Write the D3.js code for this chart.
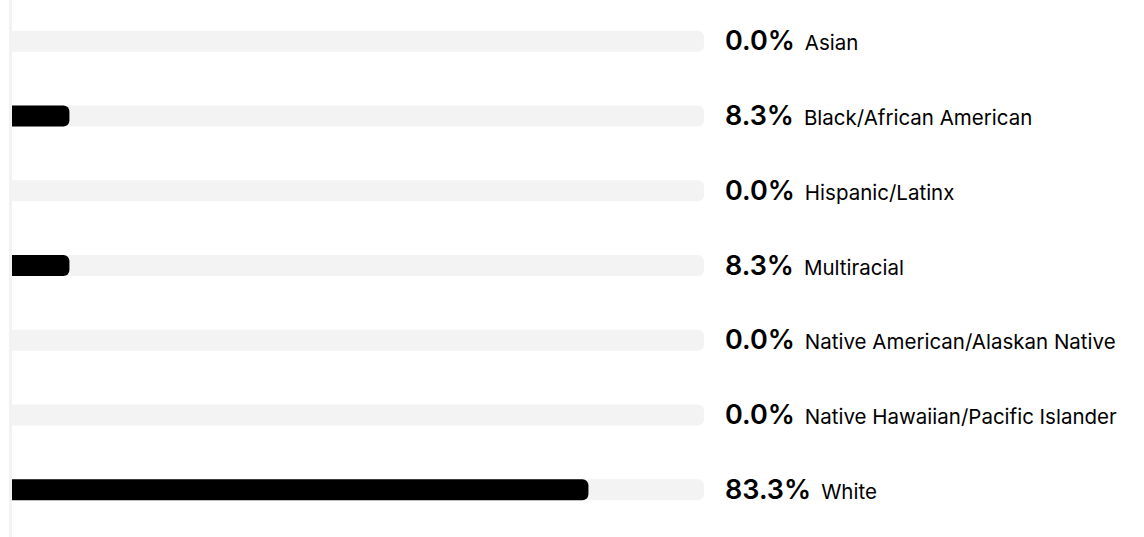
<!DOCTYPE html>
<html>
<head>
<meta charset="utf-8">
<script src="https://cdn.jsdelivr.net/npm/d3@7"></script>
<style>
  body { margin: 0; background: #fff; }
  text { font-family: Inter, "Open Sans", sans-serif; fill: #000; }
</style>
</head>
<body>
<div id="chart"></div>
<script>
// Data
var categories = ['Asian', 'Black/African American', 'Hispanic/Latinx', 'Multiracial',
  'Native American/Alaskan Native', 'Native Hawaiian/Pacific Islander', 'White'];
var percents = [0.0, 8.3, 0.0, 8.3, 0.0, 0.0, 83.3];

var width = 1144;
var height = 537;

var svg = d3.select('#chart')
  .append('svg')
  .attr('width', width)
  .attr('height', height);

var x = d3.scaleLinear().domain([0, 100]).range([12, 704]);
var y = d3.scaleBand().domain(categories).range([4, 527]).paddingInner(0.72).paddingOuter(0.36);
var barH = 21;

// left axis line
svg.append('rect')
  .attr('x', 9)
  .attr('y', 0)
  .attr('width', 3)
  .attr('height', height)
  .style('fill', '#f2f2f2');

var rows = svg.selectAll('.row')
  .data(categories)
  .enter().append('g')
  .attr('class', 'row')
  .attr('transform', function(d) {
    return 'translate(0,' + (y(d) + y.bandwidth() / 2) + ')';
  });

// background track
rows.append('path')
  .attr('d', function() { return roundRight(x(0), -barH / 2, x(100) - x(0), barH, 6); })
  .style('fill', '#f3f3f3');

// value bar
rows.append('path')
  .attr('d', function(d, i) {
    var w = x(percents[i]) - x(0);
    return w > 0 ? roundRight(x(0), -barH / 2, w, barH, 6) : '';
  })
  .style('fill', '#000');

var pct = rows.append('text')
  .attr('x', 725)
  .attr('y', 9)
  .style('font-size', '27px')
  .style('font-weight', 600)
  .text(function(d, i) { return percents[i].toFixed(1) + '%'; });

rows.append('text')
  .attr('x', function(d, i) {
    return 725 + pct.nodes()[i].getComputedTextLength() + 10;
  })
  .attr('y', 9)
  .style('font-size', '20.5px')
  .text(function(d) { return d; });

function roundRight(x0, y0, w, h, r) {
  r = Math.min(r, w / 2, h / 2);
  return 'M' + x0 + ',' + y0 +
    'H' + (x0 + w - r) +
    'A' + r + ',' + r + ' 0 0 1 ' + (x0 + w) + ',' + (y0 + r) +
    'V' + (y0 + h - r) +
    'A' + r + ',' + r + ' 0 0 1 ' + (x0 + w - r) + ',' + (y0 + h) +
    'H' + x0 + 'Z';
}
</script>
</body>
</html>
